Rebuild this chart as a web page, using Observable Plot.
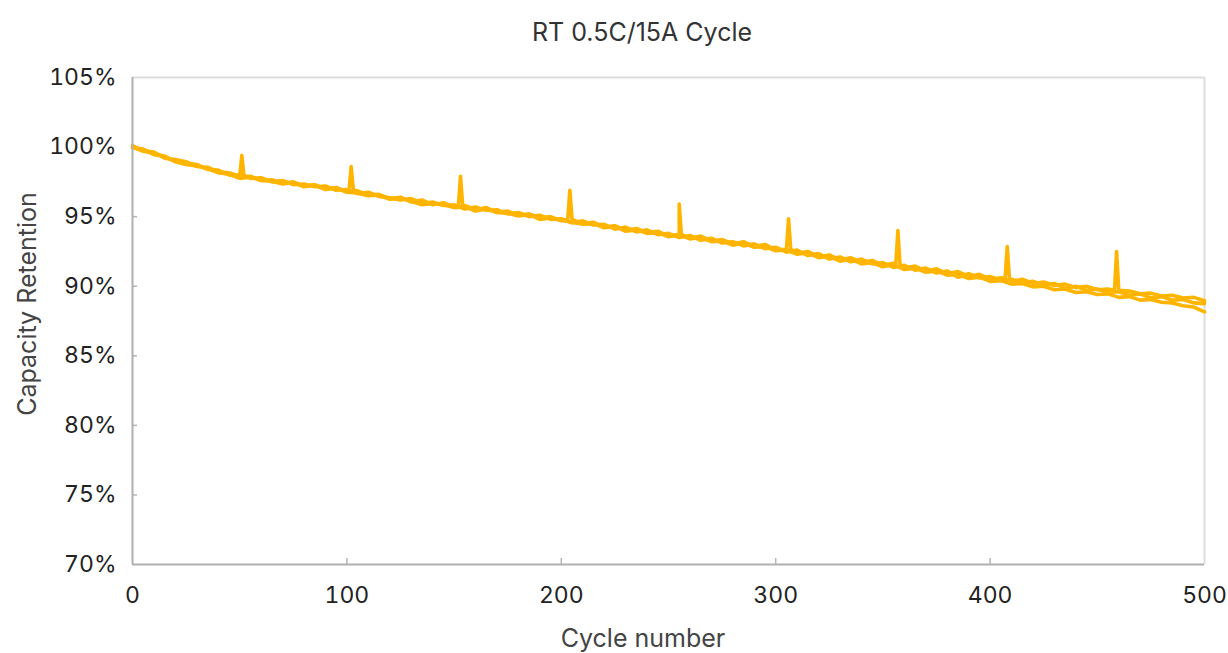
<!DOCTYPE html>
<html>
<head>
<meta charset="utf-8">
<script src="https://cdn.jsdelivr.net/npm/d3@7"></script>
<script src="https://cdn.jsdelivr.net/npm/@observablehq/plot@0.6"></script>
<style>
  html, body { margin: 0; padding: 0; background: #fff; }
  body { width: 1228px; height: 653px; position: relative; overflow: hidden; font-family: Inter, "Liberation Sans", sans-serif; }
  #title { position: absolute; top: 16px; left: 0; width: 1284px; text-align: center; font-size: 25px; line-height: 32px; color: #333; }
  #chart { position: absolute; top: 60px; left: 0; }
  #xlabel { position: absolute; top: 622px; left: 0; width: 1286px; text-align: center; font-size: 25px; line-height: 32px; color: #444; }
  #ylabel { position: absolute; left: 27px; top: 304px; transform: translate(-50%, -50%) rotate(-90deg); white-space: nowrap; font-size: 25px; line-height: 32px; color: #444; }
</style>
</head>
<body>
<div id="title">RT 0.5C/15A Cycle</div>
<div id="chart"></div>
<div id="xlabel">Cycle number</div>
<div id="ylabel">Capacity Retention</div>
<script>
const xTicks = [0, 100, 200, 300, 400, 500];
const yTicks = [70, 75, 80, 85, 90, 95, 100, 105];
const cycles = d3.range(0, 501, 5);

const seriesA = [
  100.1, 99.75, 99.65, 99.2, 99.1, 98.95, 98.6, 98.55, 98.2, 98.15,
  97.85, 97.9, 97.6, 97.65, 97.4, 97.5, 97.2, 97.3, 97.0, 97.1,
  96.8, 96.85, 96.55, 96.6, 96.3, 96.4, 96.05, 96.2, 95.85, 96.0,
  95.7, 95.8, 95.5, 95.65, 95.3, 95.4, 95.1, 95.2, 94.9, 95.0,
  94.7, 94.8, 94.5, 94.6, 94.25, 94.35, 94.0, 94.15, 93.85, 93.95,
  93.6, 93.8, 93.45, 93.6, 93.25, 93.35, 93.05, 93.2, 92.85, 93.0,
  92.6, 92.7, 92.35, 92.5, 92.1, 92.25, 91.9, 92.05, 91.7, 91.85,
  91.5, 91.65, 91.3, 91.45, 91.1, 91.25, 90.9, 91.05, 90.7, 90.85,
  90.5, 90.6, 90.35, 90.5, 90.2, 90.3, 90.05, 90.15, 89.9, 90.0,
  89.75, 89.8, 89.6, 89.65, 89.45, 89.5, 89.3, 89.35, 89.15, 89.2,
  88.95
];
const seriesB = [
  99.95, 99.85, 99.45, 99.35, 98.95, 98.85, 98.75, 98.4, 98.35, 98.0,
  97.95, 97.75, 97.8, 97.5, 97.6, 97.3, 97.35, 97.15, 97.2, 96.9,
  96.95, 96.65, 96.75, 96.45, 96.35, 96.2, 96.3, 95.95, 96.05, 95.8,
  95.85, 95.55, 95.7, 95.45, 95.5, 95.2, 95.3, 95.0, 95.1, 94.8,
  94.85, 94.55, 94.7, 94.4, 94.45, 94.1, 94.25, 93.9, 94.05, 93.7,
  93.8, 93.5, 93.65, 93.3, 93.45, 93.1, 93.2, 92.9, 93.05, 92.7,
  92.8, 92.45, 92.6, 92.2, 92.35, 91.95, 92.1, 91.75, 91.95, 91.6,
  91.7, 91.35, 91.5, 91.15, 91.3, 90.95, 91.1, 90.65, 90.9, 90.6,
  90.7, 90.4, 90.5, 90.25, 90.35, 90.1, 90.2, 89.85, 90.0, 89.7,
  89.8, 89.55, 89.6, 89.35, 89.45, 89.15, 89.25, 89.0, 89.05, 88.8,
  88.75
];
const seriesC = [
  100.0, 99.7, 99.55, 99.3, 98.95, 98.75, 98.65, 98.45, 98.15, 98.05,
  97.75, 97.85, 97.6, 97.55, 97.35, 97.45, 97.15, 97.25, 96.95, 97.05,
  96.75, 96.7, 96.5, 96.55, 96.25, 96.35, 96.1, 95.85, 95.95, 95.85,
  95.65, 95.7, 95.4, 95.55, 95.3, 95.25, 95.05, 95.15, 94.8, 94.9,
  94.75, 94.6, 94.45, 94.5, 94.2, 94.3, 93.95, 94.05, 93.8, 93.85,
  93.55, 93.7, 93.4, 93.5, 93.2, 93.25, 92.95, 93.1, 92.8, 92.85,
  92.55, 92.6, 92.3, 92.4, 92.05, 92.15, 91.8, 91.95, 91.6, 91.7,
  91.4, 91.55, 91.2, 91.3, 91.0, 91.1, 90.8, 90.85, 90.55, 90.65,
  90.35, 90.4, 90.15, 90.2, 89.95, 90.0, 89.75, 89.8, 89.55, 89.6,
  89.4, 89.45, 89.2, 89.25, 89.0, 89.05, 88.85, 88.8, 88.6, 88.5,
  88.15
];

const spikeCycles = [51, 102, 153, 204, 255, 306, 357, 408, 459];
const spikePeaks  = [99.4, 98.6, 97.9, 96.9, 95.9, 94.85, 94.0, 92.85, 92.5];
const spikeBase   = [97.9, 96.9, 95.8, 94.8, 93.7, 92.65, 91.55, 90.55, 89.7];

// build table
const data = [];
const spikeNeighbors = new Set();
spikeCycles.forEach(c => { spikeNeighbors.add(c - 1); spikeNeighbors.add(c + 1); });
const rowsA = [];
cycles.forEach((c, i) => { if (!spikeNeighbors.has(c)) rowsA.push({cycle: c, value: seriesA[i], series: "A"}); });
spikeCycles.forEach((c, i) => {
  rowsA.push({cycle: c - 1, value: spikeBase[i], series: "A"});
  rowsA.push({cycle: c, value: spikePeaks[i], series: "A"});
  rowsA.push({cycle: c + 1, value: spikeBase[i], series: "A"});
});
rowsA.sort((a, b) => a.cycle - b.cycle);
data.push(...rowsA);
cycles.forEach((c, i) => data.push({cycle: c, value: seriesB[i], series: "B"}));
cycles.forEach((c, i) => data.push({cycle: c, value: seriesC[i], series: "C"}));

const chart = Plot.plot({
  width: 1228,
  height: 593,
  marginLeft: 132,
  marginRight: 24,
  marginTop: 17,
  marginBottom: 89,
  style: {fontFamily: "Inter, 'Liberation Sans', sans-serif", fontSize: "23px", color: "#222", background: "#fff"},
  x: {domain: [0, 500], ticks: xTicks},
  y: {domain: [70, 105], ticks: yTicks},
  marks: [
    Plot.ruleY([105], {stroke: "#dddddd", strokeWidth: 2}),
    Plot.ruleX([500], {stroke: "#dddddd", strokeWidth: 2}),
    Plot.axisY(yTicks, {tickSize: 0, tickPadding: 16, tickFormat: d => d + "%", label: null, fill: "#222", fontSize: 23}),
    Plot.axisY(yTicks.filter(d => d > 70 && d < 105), {tickSize: 5, dx: 5, text: null, stroke: "#b5b5b5", strokeWidth: 1.5, label: null}),
    Plot.axisX(xTicks, {tickSize: 0, tickPadding: 22, label: null, fill: "#222", fontSize: 23}),
    Plot.axisX(xTicks.filter(d => d > 0 && d < 500), {tickSize: 6, dy: -6, text: null, stroke: "#b5b5b5", strokeWidth: 1.5, label: null}),
    Plot.line(data, {x: "cycle", y: "value", z: "series", stroke: "#FFB500", strokeWidth: 3.6, curve: "linear"}),
    Plot.ruleX([0], {stroke: "#b0b0b0", strokeWidth: 2}),
    Plot.ruleY([70], {stroke: "#b0b0b0", strokeWidth: 2})
  ]
});
document.getElementById("chart").appendChild(chart);
</script>
</body>
</html>
